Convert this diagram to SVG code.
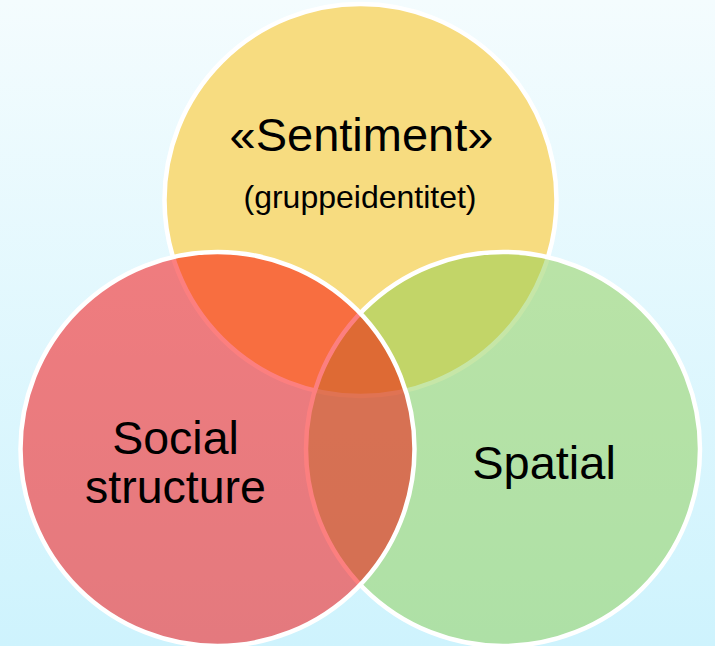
<svg xmlns="http://www.w3.org/2000/svg" width="715" height="646" viewBox="0 0 715 646">
  <defs>
    <linearGradient id="bg" x1="0" y1="0" x2="0" y2="1">
      <stop offset="0" stop-color="#F4FCFE"/>
      <stop offset="1" stop-color="#CEF3FD"/>
    </linearGradient>
  </defs>
  <style>
    .ring { stroke: #FFFFFF; stroke-width: 4.5; }
    .lbl { font-family: "Liberation Sans", Arial, sans-serif; fill: #000000; text-anchor: middle; }
  </style>
  <rect x="0" y="0" width="715" height="646" fill="url(#bg)"/>
  <g id="node-sentiment">
    <circle class="ring" cx="360.5" cy="200" r="196" fill="#F7DC80"/>
    <text class="lbl" x="361.5" y="151" font-size="47">«Sentiment»</text>
    <text class="lbl" x="360" y="208" font-size="32">(gruppeidentitet)</text>
  </g>
  <g id="node-spatial">
    <circle class="ring" cx="503" cy="449" r="197" fill="#8DCE4F" fill-opacity="0.5"/>
    <text class="lbl" x="544" y="479" font-size="47">Spatial</text>
  </g>
  <g id="node-social">
    <circle class="ring" cx="217.5" cy="449" r="197" fill="#FA0000" fill-opacity="0.5"/>
    <text class="lbl" x="175.5" y="454" font-size="46.5">Social</text>
    <text class="lbl" x="175.5" y="503" font-size="46.5">structure</text>
  </g>
</svg>
